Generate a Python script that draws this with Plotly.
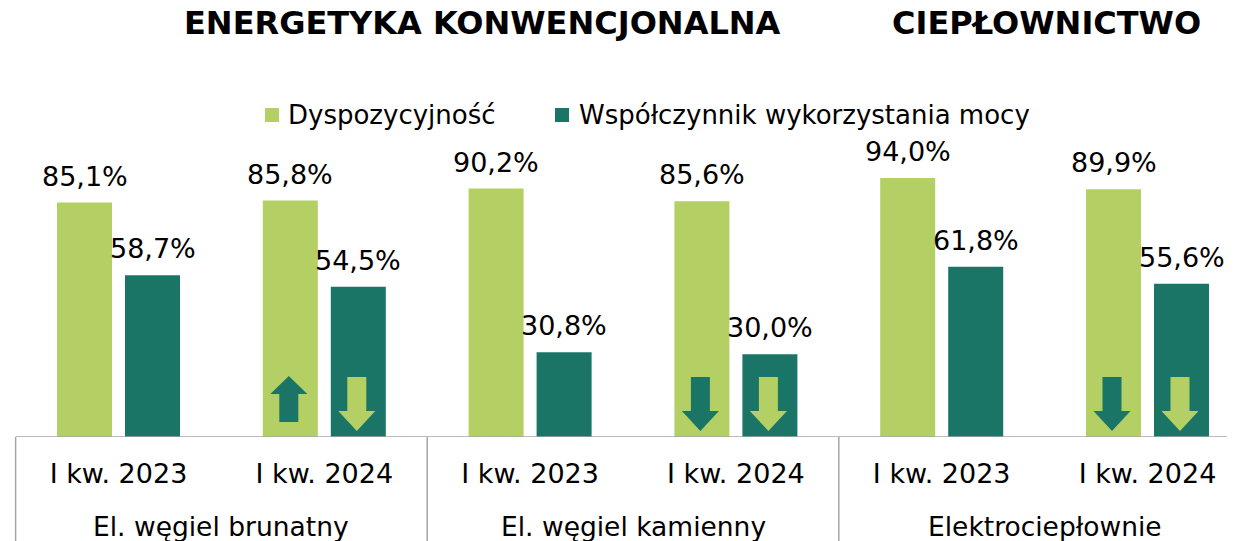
import plotly.graph_objects as go

# ---- data ----
groups = ["El. węgiel brunatny", "El. węgiel kamienny", "Elektrociepłownie"]
periods = ["I kw. 2023", "I kw. 2024", "I kw. 2023", "I kw. 2024", "I kw. 2023", "I kw. 2024"]
dyspozycyjnosc = [85.1, 85.8, 90.2, 85.6, 94.0, 89.9]
wykorzystanie = [58.7, 54.5, 30.8, 30.0, 61.8, 55.6]
series_names = ["Dyspozycyjność", "Współczynnik wykorzystania mocy"]
section_titles = ["ENERGETYKA KONWENCJONALNA", "CIEPŁOWNICTWO"]

GREEN = "#B4CF64"
TEAL = "#1B7566"
GRID = "#A6A6A6"
FONT = "DejaVu Sans"

# page body has an 8px margin; figure is sized/positioned to compensate
PAGE = 8
W, H = 1235 - PAGE, 541 - PAGE
TOP, PLOT_H = 140 - PAGE, 297
BOTTOM = H - TOP - PLOT_H
BASE = TOP + PLOT_H            # figure-pixel y of the baseline

PX = 205.8                      # pixels per category
BW = 55 / PX                    # bar width
OFF_G = -(34 + 27.5) / PX       # offset of green bar
OFF_T = (34 - 27.5) / PX        # offset of teal bar
X0 = -0.5 - (15.6 - PAGE) / PX
X1 = X0 + W / PX

def px_x(sx):   # screen x -> paper
    return (sx - PAGE) / W

def px_y(sy):   # screen y -> paper
    return (BASE - (sy - PAGE)) / PLOT_H

xs = list(range(len(periods)))

fig = go.Figure()
fig.add_trace(go.Bar(x=xs, y=dyspozycyjnosc, name=series_names[0], marker_color=GREEN,
                     width=BW, offset=OFF_G, marker_line_width=0))
fig.add_trace(go.Bar(x=xs, y=wykorzystanie, name=series_names[1], marker_color=TEAL,
                     width=BW, offset=OFF_T, marker_line_width=0))

def fmt(v):
    return f"{v:.1f}".replace(".", ",") + "%"

ann = []
for i in xs:
    for vals, off in ((dyspozycyjnosc, OFF_G), (wykorzystanie, OFF_T)):
        ann.append(dict(x=i + off + BW / 2, y=vals[i], xref="x", yref="y", text=fmt(vals[i]),
                        showarrow=False, yanchor="bottom", yshift=9,
                        font=dict(family=FONT, size=27, color="black")))

# group labels
for g, name in enumerate(groups):
    ann.append(dict(x=2 * g + 0.5, y=0, xref="x", yref="y", text=name, showarrow=False,
                    yanchor="middle", yshift=-89, font=dict(family=FONT, size=26.5, color="black")))

# section titles
for t, cx in zip(section_titles, (482.5, 1046)):
    ann.append(dict(x=px_x(cx), y=px_y(23), xref="paper", yref="paper", text=f"<b>{t}</b>",
                    showarrow=False, xanchor="center", yanchor="middle",
                    font=dict(family=FONT, size=32, color="black")))

shapes = []
# legend (manual)
for name, col, sqx, tx in zip(series_names, (GREEN, TEAL), (265, 555), (286, 577)):
    shapes.append(dict(type="rect", xref="paper", yref="paper", x0=px_x(sqx), x1=px_x(sqx + 14),
                       y0=px_y(122), y1=px_y(108), fillcolor=col, line=dict(width=0)))
    ann.append(dict(x=px_x(tx), y=px_y(115), xref="paper", yref="paper", text=name, showarrow=False,
                    xanchor="left", yanchor="middle", font=dict(family=FONT, size=26, color="black")))

# axis baseline
shapes.append(dict(type="line", xref="x", yref="y", x0=-0.5, x1=X1 + 1, y0=0, y1=0,
                   line=dict(color=GRID, width=1.5)))
# dividers
for d in (-0.5, 1.5, 3.5, 5.5):
    shapes.append(dict(type="line", xref="x", yref="paper", x0=d, x1=d, y0=0, y1=-0.5,
                       line=dict(color=GRID, width=1.5)))

# trend arrows for the second period of each group
def arrow_path(up):
    sw, hw = 9.5, 18.5
    if up:
        pts = [(-sw, 15), (sw, 15), (sw, 43), (hw, 43), (0, 61), (-hw, 43), (-sw, 43)]
    else:
        pts = [(-sw, 60), (sw, 60), (sw, 26), (hw, 26), (0, 6), (-hw, 26), (-sw, 26)]
    return "M" + " L".join(f"{x},{y}" for x, y in pts) + " Z"

for i in xs:
    if i % 2 == 1:
        for vals, off, col in ((dyspozycyjnosc, OFF_G, TEAL), (wykorzystanie, OFF_T, GREEN)):
            up = vals[i] > vals[i - 1]
            shapes.append(dict(type="path", xref="x", yref="y", xsizemode="pixel", ysizemode="pixel",
                               xanchor=i + off + BW / 2 - 1.5 / PX, yanchor=0, path=arrow_path(up),
                               fillcolor=col, line=dict(width=0)))

fig.update_layout(
    width=W, height=H,
    margin=dict(l=0, r=0, t=TOP, b=BOTTOM),
    plot_bgcolor="white", paper_bgcolor="white",
    barmode="overlay",
    font=dict(family=FONT, color="black"),
    xaxis=dict(range=[X0, X1], tickvals=xs, ticktext=periods, showgrid=False, zeroline=False,
               showline=False, ticks="", tickfont=dict(family=FONT, size=27, color="black"),
               ticklabelstandoff=18),
    yaxis=dict(range=[0, PLOT_H / 2.755], visible=False),
    showlegend=False,
    annotations=ann, shapes=shapes,
)

fig.write_html("out.html")
